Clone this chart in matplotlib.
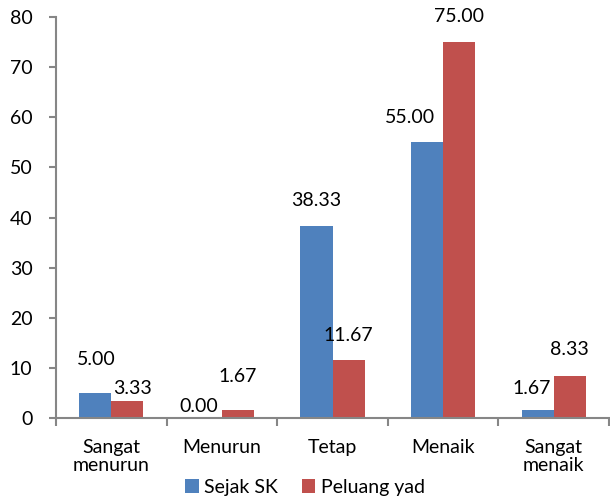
import matplotlib.pyplot as plt
import numpy as np

plt.rcParams['font.family'] = ['Lato', 'DejaVu Sans']

categories = ['Sangat\nmenurun', 'Menurun', 'Tetap', 'Menaik', 'Sangat\nmenaik']
sejak_sk = [5.00, 0.00, 38.33, 55.00, 1.67]
peluang_yad = [3.33, 1.67, 11.67, 75.00, 8.33]
series_names = ['Sejak SK', 'Peluang yad']
y_ticks = [0, 10, 20, 30, 40, 50, 60, 70, 80]

# label nudges in points (excel moved some to avoid overlaps)
blue_pad = [(1, 18), (-5, 2), (0, 12), (-12, 12), (-4, 9)]
red_pad = [(4, 3), (0, 18), (0, 11), (0, 12), (0, 13)]

blue = '#4F81BD'
red = '#C0504D'
grey = '#868686'
fs = 14

fig = plt.figure(figsize=(6.10, 4.99), dpi=100)
ax = fig.add_axes([0.0918, 0.1623, 0.9066, 0.8036])

x = np.arange(len(categories))
w = 0.29
b1 = ax.bar(x - w / 2, sejak_sk, w, color=blue, label=series_names[0])
b2 = ax.bar(x + w / 2, peluang_yad, w, color=red, label=series_names[1])

for bars, vals, pads in ((b1, sejak_sk, blue_pad), (b2, peluang_yad, red_pad)):
    for b, v, p in zip(bars, vals, pads):
        ax.annotate('%.2f' % v, (b.get_x() + b.get_width() / 2, v),
                    xytext=p, textcoords='offset points',
                    ha='center', va='bottom', fontsize=fs)

ax.set_xlim(-0.5, len(categories) - 0.5)
ax.set_ylim(0, 80)
ax.set_yticks(y_ticks)
ax.set_xticks(x)
ax.set_xticklabels(categories, fontsize=fs, linespacing=1.05)
ax.set_xticks(np.arange(-0.5, len(categories)), minor=True)
ax.tick_params(axis='x', which='major', length=0, pad=15)
ax.tick_params(axis='x', which='minor', length=6, color=grey, width=1.5)
ax.tick_params(axis='y', length=5, color=grey, width=1.5, pad=12, labelsize=fs)

for s in ('top', 'right'):
    ax.spines[s].set_visible(False)
for s in ('left', 'bottom'):
    ax.spines[s].set_color(grey)
    ax.spines[s].set_linewidth(1.5)

fig.legend(loc='center', bbox_to_anchor=(0.5, 0.024), ncol=2, frameon=False,
           fontsize=fs, handlelength=0.7, handleheight=0.7, handletextpad=0.3,
           columnspacing=1.2, borderpad=0)

fig.savefig('out.png', dpi=100)
